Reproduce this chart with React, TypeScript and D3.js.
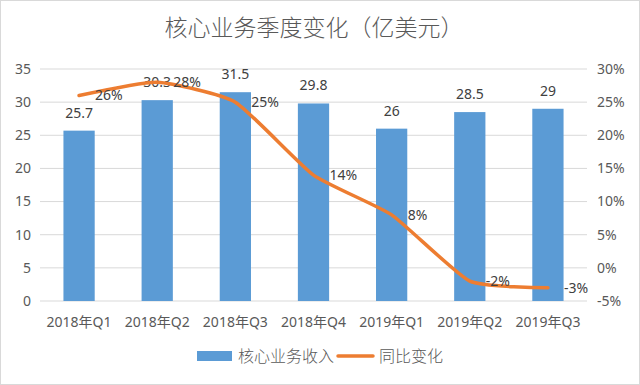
import { useEffect, useRef } from "react";
import * as d3 from "d3";

const categories = ["2018年Q1", "2018年Q2", "2018年Q3", "2018年Q4", "2019年Q1", "2019年Q2", "2019年Q3"];
const revenue = [25.7, 30.3, 31.5, 29.8, 26, 28.5, 29];
const yoy = [26, 28, 25, 14, 8, -2, -3];
const leftTicks = [0, 5, 10, 15, 20, 25, 30, 35];
const rightTicks = [-5, 0, 5, 10, 15, 20, 25, 30];

export default function App() {
  const svgRef = useRef<SVGSVGElement>(null);

  useEffect(() => {
    const W = 640, H = 385;
    const margin = { top: 69, right: 53, bottom: 84, left: 40 };
    const width = W - margin.left - margin.right;
    const height = H - margin.top - margin.bottom;
    const font = "'Noto Sans', 'Noto Sans CJK SC', sans-serif";
    const cjk = "'Noto Sans CJK SC', sans-serif";
    const textColor = "#595959";

    const root = d3.select(svgRef.current);
    root.selectAll("*").remove();
    root.attr("width", W).attr("height", H);

    root.append("rect")
      .attr("x", 0.5).attr("y", 0.5)
      .attr("width", W - 1).attr("height", H - 1)
      .attr("fill", "white")
      .attr("stroke", "#d9d9d9");

    root.append("text")
      .attr("x", W / 2 - 6).attr("y", 36)
      .attr("text-anchor", "middle")
      .attr("font-family", cjk)
      .attr("font-weight", 300)
      .attr("font-size", 23)
      .attr("fill", textColor)
      .text("核心业务季度变化（亿美元）");

    const svg = root.append("g")
      .attr("transform", `translate(${margin.left},${margin.top})`);

    const x = d3.scaleBand().domain(categories).range([0, width]).paddingInner(0.6).paddingOuter(0.3);
    const xc = (c: string) => (x(c) as number) + x.bandwidth() / 2;
    const y = d3.scaleLinear().domain([0, 35]).range([height, 0]);
    const y2 = d3.scaleLinear().domain([-5, 30]).range([height, 0]);

    // gridlines
    svg.append("g")
      .selectAll("line")
      .data(leftTicks)
      .join("line")
      .attr("x1", 0).attr("x2", width)
      .attr("y1", d => y(d)).attr("y2", d => y(d))
      .attr("stroke", "#d9d9d9").attr("stroke-width", 1);

    // left axis labels
    svg.append("g")
      .selectAll("text")
      .data(leftTicks)
      .join("text")
      .attr("x", -9).attr("y", d => y(d))
      .attr("dy", "0.35em")
      .attr("text-anchor", "end")
      .attr("font-family", font).attr("font-size", 14)
      .attr("fill", textColor)
      .text(d => d);

    // right axis labels
    svg.append("g")
      .selectAll("text")
      .data(rightTicks)
      .join("text")
      .attr("x", width + 10).attr("y", d => y2(d))
      .attr("dy", "0.35em")
      .attr("font-family", font).attr("font-size", 14)
      .attr("fill", textColor)
      .text(d => d + "%");

    // x labels
    svg.append("g")
      .selectAll("text")
      .data(categories)
      .join("text")
      .attr("x", d => xc(d)).attr("y", height + 26)
      .attr("text-anchor", "middle")
      .attr("font-family", font).attr("font-size", 14)
      .attr("fill", textColor)
      .text(d => d);

    // bars
    svg.append("g")
      .selectAll("rect")
      .data(revenue)
      .join("rect")
      .attr("x", (d, i) => x(categories[i]) as number)
      .attr("y", d => y(d))
      .attr("width", x.bandwidth())
      .attr("height", d => height - y(d))
      .attr("fill", "#5B9BD5");

    // bar labels
    svg.append("g")
      .selectAll("text")
      .data(revenue)
      .join("text")
      .attr("x", (d, i) => xc(categories[i]))
      .attr("y", d => y(d) - 13)
      .attr("text-anchor", "middle")
      .attr("font-family", font).attr("font-size", 14)
      .attr("fill", "#404040")
      .text(d => d);

    // line (excel-like smoothing)
    const line = d3.line<number>()
      .x((d, i) => xc(categories[i]))
      .y(d => y2(d))
      .curve(d3.curveCardinal.tension(0.5));

    svg.append("path")
      .datum(yoy)
      .attr("fill", "none")
      .attr("stroke", "#ED7D31")
      .attr("stroke-width", 3.5)
      .attr("stroke-linecap", "round")
      .attr("d", line);

    // line labels
    svg.append("g")
      .selectAll("text")
      .data(yoy)
      .join("text")
      .attr("x", (d, i) => xc(categories[i]) + 16)
      .attr("y", d => y2(d))
      .attr("dy", "0.35em")
      .attr("font-family", font).attr("font-size", 14)
      .attr("fill", "#404040")
      .text(d => d + "%");

    // legend
    const lg = root.append("g").attr("transform", "translate(197,356)");
    lg.append("rect").attr("x", 0).attr("y", -5).attr("width", 35).attr("height", 10).attr("fill", "#5B9BD5");
    lg.append("text").attr("x", 41).attr("y", 0).attr("dy", "0.35em")
      .attr("font-family", cjk).attr("font-weight", 300)
      .attr("font-size", 16).attr("fill", textColor).text("核心业务收入");
    lg.append("line").attr("x1", 141).attr("x2", 176).attr("y1", 0).attr("y2", 0)
      .attr("stroke", "#ED7D31").attr("stroke-width", 3.5).attr("stroke-linecap", "round");
    lg.append("text").attr("x", 182).attr("y", 0).attr("dy", "0.35em")
      .attr("font-family", cjk).attr("font-weight", 300)
      .attr("font-size", 16).attr("fill", textColor).text("同比变化");
  }, []);

  return (
    <svg ref={svgRef} style={{ position: "absolute", left: 0, top: 0, display: "block" }}></svg>
  );
}
